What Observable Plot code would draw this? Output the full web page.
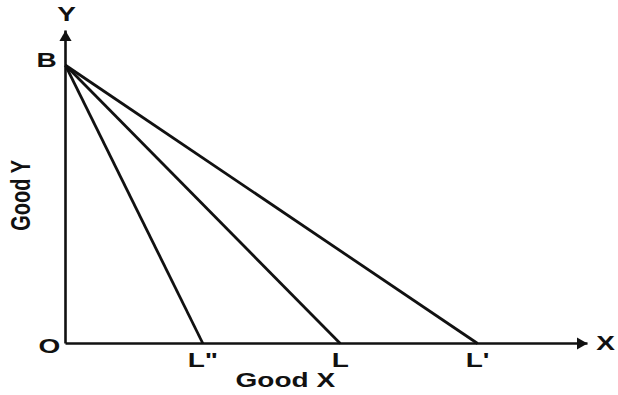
<!DOCTYPE html>
<html>
<head>
<meta charset="utf-8">
<script src="https://cdn.jsdelivr.net/npm/d3@7"></script>
<script src="https://cdn.jsdelivr.net/npm/@observablehq/plot@0.6"></script>
<style>
  html, body { margin: 0; padding: 0; background: #fff; }
  #chart svg { display: block; }
</style>
</head>
<body>
<div id="chart"></div>
<script>
// ---- data ----
const interceptLabels = ['L"', "L", "L'"];
const intercepts = [4, 8, 12];        // x-intercepts of the budget lines
const bLabel = ["B"];
const bValue = [8];                   // y-intercept (point B)
const axisEnds = [15.2, 9];           // [x axis end, y axis end]
const axisNames = ["X", "Y"];
const axisTitles = ["Good X", "Good Y"];
const originLabel = ["O"];

const lines = intercepts.map((x, i) => ({x1: 0, y1: bValue[0], x2: x, y2: 0, label: interceptLabels[i]}));
const axes = [
  {x1: 0, y1: 0, x2: axisEnds[0], y2: 0},
  {x1: 0, y1: 0, x2: 0, y2: axisEnds[1]}
];

const font = "Liberation Sans, Arial, sans-serif";
const txt = {fontSize: 20, fontWeight: "bold", fill: "#111", fontFamily: font};

const plot = Plot.plot({
  width: 618,
  height: 395,
  marginLeft: 65,
  marginRight: 31,
  marginTop: 30,
  marginBottom: 52,
  x: {domain: [0, axisEnds[0]], axis: null},
  y: {domain: [0, axisEnds[1]], axis: null},
  style: {background: "#fff", fontFamily: font},
  marks: [
    // axes
    Plot.link(axes, {x1: "x1", y1: "y1", x2: "x2", y2: "y2", stroke: "#111", strokeWidth: 2.6}),
    // budget lines
    Plot.link(lines, {x1: "x1", y1: "y1", x2: "x2", y2: "y2", stroke: "#111", strokeWidth: 2.8}),
    // arrowheads
    Plot.dot([{x: axisEnds[0], y: 0}], {x: "x", y: "y", symbol: "triangle", r: 4.5, fill: "#111", stroke: "none", rotate: 90, dx: -7}),
    Plot.dot([{x: 0, y: axisEnds[1]}], {x: "x", y: "y", symbol: "triangle", r: 4.5, fill: "#111", stroke: "none", dy: 7}),
    // axis letters
    Plot.text([axisNames[0]], {x: axisEnds[0], y: 0, text: d => d, dx: 18, dy: 0, ...txt}),
    Plot.text([axisNames[1]], {x: 0, y: axisEnds[1], text: d => d, dx: 1, dy: -16, ...txt}),
    // B and O
    Plot.text(bLabel, {x: 0, y: bValue[0], text: d => d, dx: -19, dy: -5, ...txt}),
    Plot.text(originLabel, {x: 0, y: 0, text: d => d, dx: -16, dy: 3, ...txt}),
    // intercept labels
    Plot.text(lines, {x: "x2", y: 0, text: "label", dy: 17, ...txt}),
    // axis titles
    Plot.text([axisTitles[0]], {x: 6.4, y: 0, text: d => d, dy: 37, ...txt}),
    Plot.text([axisTitles[1]], {x: 0, y: 4.26, text: d => d, dx: -44, rotate: -90, ...txt})
  ]
});

// horizontally stretched lettering as in the reference
plot.querySelectorAll("text").forEach(t => {
  const tr = t.getAttribute("transform");
  if (!tr) return;
  t.setAttribute("transform", tr + (tr.includes("rotate") ? " scale(1,1.4)" : " scale(1.4,1)"));
});

document.getElementById("chart").appendChild(plot);
</script>
</body>
</html>
